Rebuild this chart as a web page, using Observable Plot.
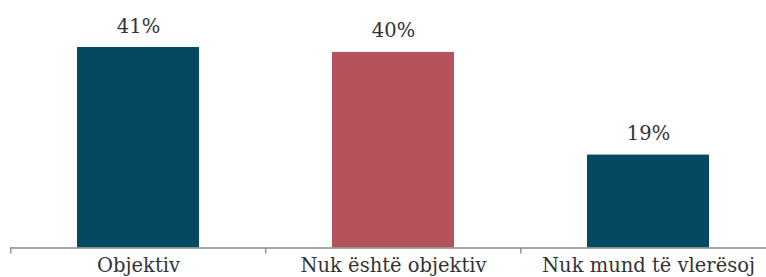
<!DOCTYPE html>
<html>
<head>
<meta charset="utf-8">
<script src="https://cdn.jsdelivr.net/npm/d3@7"></script>
<script src="https://cdn.jsdelivr.net/npm/@observablehq/plot@0.6"></script>
<style>
  html, body { margin: 0; padding: 0; background: #fff; }
  #chart svg { display: block; }
</style>
</head>
<body>
<div id="chart"></div>
<script>
const categories = ["Objektiv", "Nuk është objektiv", "Nuk mund të vlerësoj"];
const values = [41, 40, 19];
const colors = ["#034a61", "#b5535d", "#034a61"];

const data = categories.map((c, i) => ({category: c, value: values[i], color: colors[i]}));

const W = 766, H = 277;
const xRange = [10, 776.5];
const bw = (xRange[1] - xRange[0]) / categories.length;
const font = "DejaVu Serif, serif";

const chart = Plot.plot({
  width: W,
  height: H,
  marginLeft: 10,
  marginRight: 0,
  marginTop: 3,
  marginBottom: 29.5,
  style: {fontFamily: font, fontSize: "19.5px", color: "#333", background: "#fff"},
  x: {domain: categories, range: xRange, paddingInner: 0.52, paddingOuter: 0.26, align: 0.5, label: null},
  y: {domain: [0, 50], axis: null},
  marks: [
    Plot.barY(data, {x: "category", y: "value", fill: "color"}),
    Plot.text(data, {x: "category", y: "value", text: d => d.value + "%", dy: -15, lineAnchor: "bottom", fill: "#333", fontSize: 19.5}),
    Plot.ruleY([0], {stroke: "#888", strokeWidth: 1.3}),
    Plot.axisX({tickSize: 6, dx: -bw / 2, tickFormat: () => "", stroke: "#888", strokeWidth: 1.3, label: null}),
    Plot.axisX({tickSize: 0, tickPadding: 10, fill: "#333", fontSize: 19.5, label: null})
  ]
});
document.getElementById("chart").appendChild(chart);
</script>
</body>
</html>
